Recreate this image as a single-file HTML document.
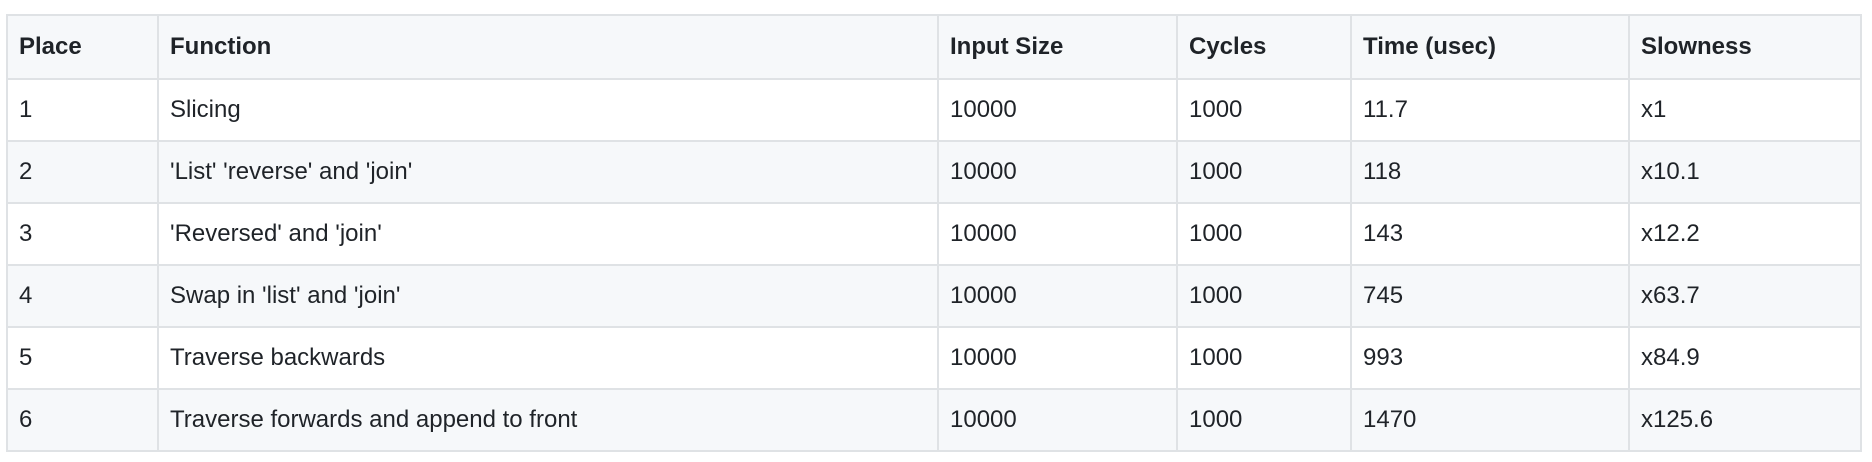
<!DOCTYPE html>
<html><head><style>
html,body{margin:0;padding:0;background:#fff;width:1872px;height:462px;overflow:hidden}
table{position:absolute;left:6px;top:14px;border-collapse:collapse;font-family:"Liberation Sans",sans-serif;font-size:24px;color:#1f2328;table-layout:fixed}
td,th{border:2px solid #dfe2e5;padding:0 0 0 11px;height:60px;text-align:left;white-space:nowrap}
th{font-weight:bold;background:#f6f8fa;height:62px}
tr:nth-child(odd) td{background:#f6f8fa}
</style></head><body>
<table>
<colgroup><col style="width:151px"><col style="width:780px"><col style="width:239px"><col style="width:174px"><col style="width:278px"><col style="width:232px"></colgroup>
<tr><th>Place</th><th>Function</th><th>Input Size</th><th>Cycles</th><th>Time (usec)</th><th>Slowness</th></tr>
<tr><td>1</td><td>Slicing</td><td>10000</td><td>1000</td><td>11.7</td><td>x1</td></tr>
<tr><td>2</td><td>'List' 'reverse' and 'join'</td><td>10000</td><td>1000</td><td>118</td><td>x10.1</td></tr>
<tr><td>3</td><td>'Reversed' and 'join'</td><td>10000</td><td>1000</td><td>143</td><td>x12.2</td></tr>
<tr><td>4</td><td>Swap in 'list' and 'join'</td><td>10000</td><td>1000</td><td>745</td><td>x63.7</td></tr>
<tr><td>5</td><td>Traverse backwards</td><td>10000</td><td>1000</td><td>993</td><td>x84.9</td></tr>
<tr><td>6</td><td>Traverse forwards and append to front</td><td>10000</td><td>1000</td><td>1470</td><td>x125.6</td></tr>
</table>
</body></html>
